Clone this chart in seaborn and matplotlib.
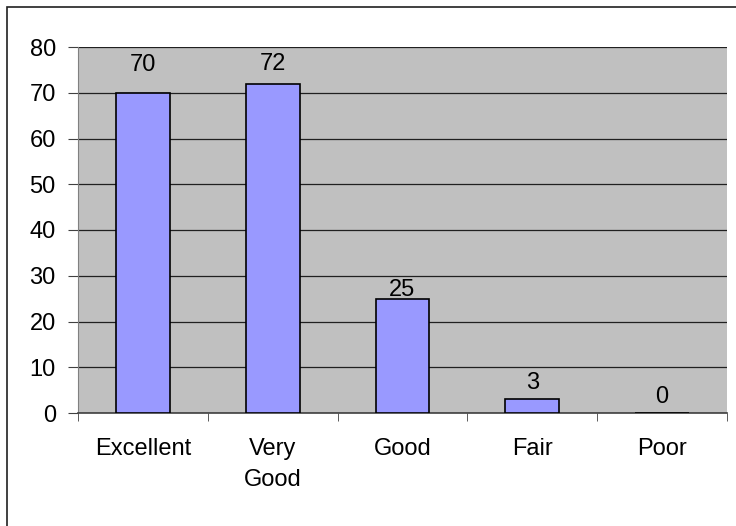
import seaborn as sns
import matplotlib.pyplot as plt
import matplotlib.patches as mpatches
import pandas as pd

# Data
categories = ['Excellent', 'Very\nGood', 'Good', 'Fair', 'Poor']
counts = [70, 72, 25, 3, 0]
# label offsets above bar top (points), as placed in the original
label_offsets = [20, 14, 6.5, 12, 11.5]

data = pd.DataFrame({'Rating': categories, 'Count': counts})

plt.rcParams['font.family'] = ['Liberation Sans', 'DejaVu Sans']

fig = plt.figure(figsize=(7.36, 5.26), dpi=100)
ax = fig.add_axes([78 / 736, 1 - 413 / 526, (727 - 78) / 736, (413 - 47) / 526])

sns.barplot(x='Rating', y='Count', data=data, color='#9999FF', width=0.415,
            edgecolor='black', linewidth=1.2, saturation=1, ax=ax, zorder=3)

ax.set_facecolor('#C0C0C0')
ax.set_ylim(0, 80)
ax.set_yticks(range(0, 81, 10))
ax.set_xlim(-0.5, 4.5)
ax.yaxis.grid(True, color='#202020', linewidth=0.9, zorder=0)
ax.set_axisbelow(True)
ax.set_xlabel('')
ax.set_ylabel('')

for s in ['top', 'right']:
    ax.spines[s].set_visible(False)
ax.spines['left'].set_color('#808080')
ax.spines['bottom'].set_color('#404040')
ax.spines['bottom'].set_linewidth(1.2)

# category ticks sit between the bars
ax.set_xticks(range(5))
ax.set_xticklabels(categories, fontsize=17, linespacing=1.5)
ax.tick_params(axis='x', length=0, pad=18)
ax.set_xticks([i - 0.5 for i in range(6)], minor=True)
ax.tick_params(axis='x', which='minor', length=6, color='#404040')
ax.tick_params(axis='y', length=7, color='#404040', labelsize=17, pad=9)

# value labels
for i, (v, off) in enumerate(zip(counts, label_offsets)):
    ax.annotate(str(v), (i, v), xytext=(0, off), textcoords='offset points',
                ha='center', va='center', fontsize=17)

# chart border
fig.patches.append(mpatches.Rectangle((7 / 736, -0.1), 1.2, 1 - 7 / 526 + 0.1,
                                      transform=fig.transFigure, fill=False,
                                      edgecolor='#202020', linewidth=1.2))

fig.savefig('out.png', dpi=100)
